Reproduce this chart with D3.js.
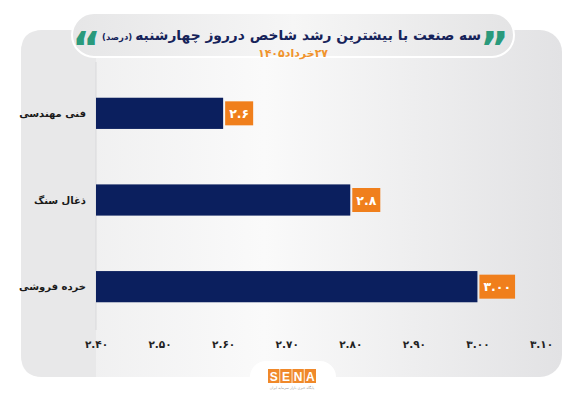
<!DOCTYPE html>
<html>
<head>
<meta charset="utf-8">
<script src="https://cdn.jsdelivr.net/npm/d3@7"></script>
<style>
  body { margin: 0; background: #fff; }
  svg { display: block; font-family: "DejaVu Sans", sans-serif; }
</style>
</head>
<body>
<div id="chart"></div>
<script>
// chart data
const categories = ["فنی مهندسی", "ذغال سنگ", "خرده فروشی"];
const values = [2.6, 2.8, 3.0];
const valueLabels = ["۲.۶", "۲.۸", "۳.۰۰"];
const tickValues = [2.4, 2.5, 2.6, 2.7, 2.8, 2.9, 3.0, 3.1];
const titleText = "سه صنعت با بیشترین رشد شاخص درروز چهارشنبه";
const unitText = "(درصد)";
const dateText = "۲۷خرداد۱۴۰۵";

// latin digits -> persian digits
const faDigits = "۰۱۲۳۴۵۶۷۸۹";
function toFa(s) { return String(s).replace(/[0-9]/g, c => faDigits[+c]); }

const width = 578, height = 400;

const svg = d3.select("#chart").append("svg")
    .attr("width", width)
    .attr("height", height);

const defs = svg.append("defs");
const bg = defs.append("linearGradient").attr("id", "bg").attr("x1", "0").attr("x2", "1");
bg.append("stop").attr("offset", "0").attr("stop-color", "#ececed");
bg.append("stop").attr("offset", "0.45").attr("stop-color", "#fafafa");
bg.append("stop").attr("offset", "1").attr("stop-color", "#e2e2e4");

const pill = defs.append("linearGradient").attr("id", "pill").attr("x1", "0").attr("x2", "1");
pill.append("stop").attr("offset", "0").attr("stop-color", "#e6e6e7");
pill.append("stop").attr("offset", "0.5").attr("stop-color", "#f6f6f6");
pill.append("stop").attr("offset", "1").attr("stop-color", "#e4e4e5");

// background panel
svg.append("rect")
    .attr("x", 21).attr("y", 30)
    .attr("width", 541).attr("height", 347)
    .attr("rx", 22)
    .attr("fill", "url(#bg)");

// label column
svg.append("path")
    .attr("d", "M96,30 L43,30 Q21,30 21,52 L21,355 Q21,377 43,377 L96,377 Z")
    .attr("fill", "#e8e8e9");

// logo tab
svg.append("rect")
    .attr("x", 250).attr("y", 361)
    .attr("width", 86).attr("height", 40)
    .attr("rx", 16)
    .attr("fill", "#fff");
svg.append("rect")
    .attr("x", 0).attr("y", 377)
    .attr("width", width).attr("height", 23)
    .attr("fill", "#fff");

// scales
const x = d3.scaleLinear().domain([2.4, 3.1]).range([96, 541]);
const y = d3.scaleBand().domain(categories).range([70, 330])
    .paddingInner(0.64).paddingOuter(0.32);

// vertical base line
svg.append("line")
    .attr("x1", x(2.4)).attr("x2", x(2.4))
    .attr("y1", 62).attr("y2", 330)
    .attr("stroke", "#d9d9db").attr("stroke-width", 1);

// bars
svg.append("g").selectAll("rect")
    .data(values)
    .join("rect")
    .attr("x", x(2.4))
    .attr("y", (d, i) => y(categories[i]))
    .attr("width", d => x(d) - x(2.4))
    .attr("height", y.bandwidth())
    .attr("fill", "#0b1f5e");

// value boxes
const lab = svg.append("g").selectAll("g")
    .data(values)
    .join("g");
lab.append("text")
    .attr("x", d => x(d) + 6)
    .attr("y", (d, i) => y(categories[i]) + y.bandwidth() / 2)
    .attr("dy", "0.36em")
    .attr("fill", "#fff")
    .attr("font-weight", "bold")
    .attr("font-size", 12.5)
    .text((d, i) => valueLabels[i]);
lab.each(function(d) {
    const g = d3.select(this);
    const w = g.select("text").node().getComputedTextLength();
    g.insert("rect", "text")
        .attr("x", x(d) + 2)
        .attr("y", +g.select("text").attr("y") - 12)
        .attr("width", w + 8)
        .attr("height", 24)
        .attr("fill", "#f07f1c");
});

// category labels
svg.append("g").selectAll("text")
    .data(categories)
    .join("text")
    .attr("x", 86)
    .attr("y", d => y(d) + y.bandwidth() / 2)
    .attr("dy", "0.35em")
    .attr("text-anchor", "start")
    .attr("direction", "rtl")
    .attr("font-weight", "bold")
    .attr("font-size", 10)
    .attr("fill", "#1a1a1a")
    .text(d => d);

// x axis
const xAxis = svg.append("g")
    .attr("transform", "translate(0,341)")
    .call(d3.axisBottom(x).tickValues(tickValues).tickSize(0).tickPadding(0)
        .tickFormat(d => toFa(d3.format(".2f")(d))));
xAxis.select(".domain").remove();
xAxis.selectAll("text")
    .attr("font-family", "DejaVu Sans")
    .attr("font-weight", "bold")
    .attr("font-size", 10.5)
    .attr("fill", "#222");

// title pill
svg.append("rect")
    .attr("x", 72).attr("y", 13)
    .attr("width", 442).attr("height", 44)
    .attr("rx", 22)
    .attr("fill", "url(#pill)")
    .attr("stroke", "#fff").attr("stroke-width", 2);

const title = svg.append("text")
    .attr("x", 481).attr("y", 40)
    .attr("text-anchor", "start")
    .attr("direction", "rtl")
    .attr("fill", "#16235a")
    .attr("font-weight", "bold")
    .attr("font-size", 13.8);
title.append("tspan").text(titleText);
title.append("tspan").attr("font-size", 8.5).attr("dx", -3).text(unitText);

// quote marks
svg.append("text")
    .attr("x", 480).attr("y", 64)
    .attr("fill", "#2a9a7c")
    .attr("font-family", "DejaVu Sans")
    .attr("font-weight", "bold")
    .attr("font-size", 44)
    .text("”");
svg.append("text")
    .attr("x", 72).attr("y", 64)
    .attr("fill", "#2a9a7c")
    .attr("font-family", "DejaVu Sans")
    .attr("font-weight", "bold")
    .attr("font-size", 44)
    .text("“");

// date
svg.append("text")
    .attr("x", 293).attr("y", 57)
    .attr("text-anchor", "middle")
    .attr("direction", "rtl")
    .attr("fill", "#f0932c")
    .attr("font-weight", "bold")
    .attr("font-size", 11)
    .text(dateText);

// logo
const logo = svg.append("g");
const letters = ["S", "E", "N", "A"];
logo.selectAll("rect")
    .data(letters)
    .join("rect")
    .attr("x", (d, i) => 268 + i * 12.2)
    .attr("y", 369)
    .attr("width", 11.4).attr("height", 14)
    .attr("fill", "#f0892a");
logo.selectAll("text")
    .data(letters)
    .join("text")
    .attr("x", (d, i) => 268 + i * 12.2 + 5.7)
    .attr("y", 380.5)
    .attr("text-anchor", "middle")
    .attr("fill", "#fff")
    .attr("font-family", "Liberation Sans")
    .attr("font-weight", "bold")
    .attr("font-size", 12)
    .text(d => d);
logo.append("text")
    .attr("x", 292).attr("y", 389)
    .attr("text-anchor", "middle")
    .attr("direction", "rtl")
    .attr("fill", "#999")
    .attr("font-size", 3.5)
    .text("پایگاه خبری بازار سرمایه ایران");
</script>
</body>
</html>
